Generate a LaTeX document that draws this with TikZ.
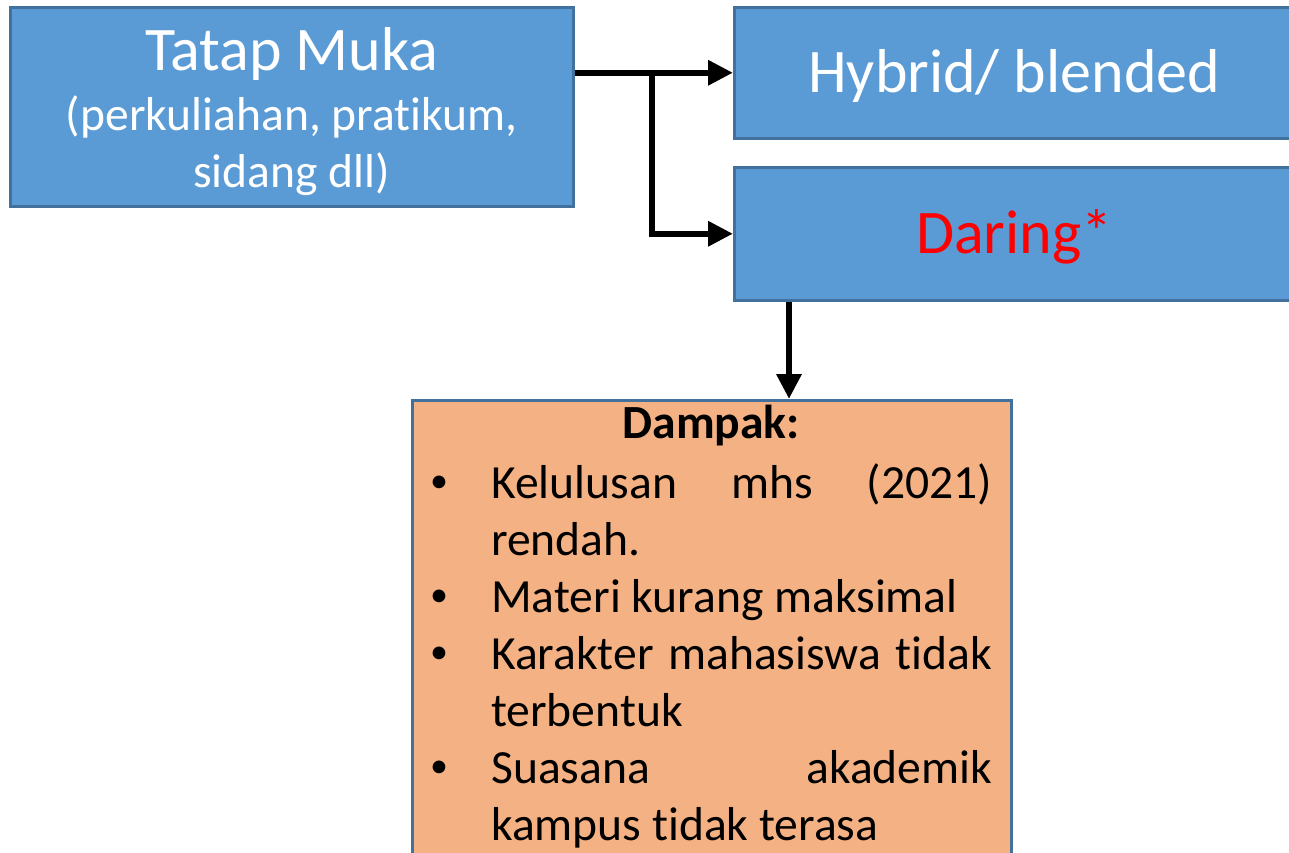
\documentclass[tikz,border=0pt]{standalone}
\usepackage{fontspec}
\setmainfont[Ligatures=NoCommon]{Carlito}
\usetikzlibrary{arrows.meta,calc}
\definecolor{boxblue}{HTML}{5B9BD5}
\definecolor{boxedge}{HTML}{41719C}
\definecolor{boxorange}{HTML}{F4B183}
\definecolor{darred}{HTML}{FF0000}
\newcommand\bigfont{\fontsize{62}{74}\selectfont}
\newcommand\midfont{\fontsize{47.6}{57}\selectfont}
\newcommand\bul{\makebox[61pt][l]{\raisebox{5.5pt}{\fontsize{36}{36}\selectfont •}}}
\begin{document}
\begin{tikzpicture}[x=1pt,y=-1pt,
  bluebox/.style={draw=boxedge, line width=2.5pt, fill=boxblue, rectangle, inner sep=0pt, anchor=north west},
  orangebox/.style={draw=boxedge, line width=2.5pt, fill=boxorange, rectangle, inner sep=0pt, anchor=north west},
  boxtext/.style={inner sep=0pt, anchor=base, text=white},
  conn/.style={line width=6.5pt, -{Triangle[length=25pt,width=24pt]}},
]
\useasboundingbox (0,0) rectangle (1289,852);
\fill[white] (0,0) rectangle (1289,852);
% boxes
\node[bluebox, minimum width=563pt, minimum height=199pt] (A) at (9,6) {};
\node[bluebox, minimum width=560pt, minimum height=131pt] (B) at (733,6) {};
\node[bluebox, minimum width=560pt, minimum height=133pt] (C) at (733,166) {};
\node[orangebox, minimum width=599pt, minimum height=500pt] (D) at (411,399) {};
% texts
\node[boxtext, font=\bigfont] (At) at ($(A.north)+(0,64)$) {Tatap Muka};
\node[boxtext, font=\midfont, align=center] (As) at ($(A.north)+(0,181)$) {(perkuliahan, pratikum,\\sidang dll)};
\node[boxtext, font=\bigfont] (Bt) at ($(B.north)+(0,86)$) {Hybrid/ blended};
\node[boxtext, font=\bigfont, text=darred] (Ct) at ($(C.north)+(0,87)$) {Daring*};
\node[inner sep=0pt, anchor=base west, text width=562pt, font=\midfont, align=justify] (Dt) at (430,438) {%
\hyphenpenalty=10000\exhyphenpenalty=10000\tolerance=9999\parindent=0pt
{\centering\bfseries Dampak:\par}\vspace{3pt}
\hangindent=61pt\hangafter=1\noindent\bul Kelulusan mhs (2021) rendah.\par
\hangindent=61pt\hangafter=1\noindent\bul Materi kurang maksimal\par
\hangindent=61pt\hangafter=1\noindent\bul Karakter mahasiswa tidak terbentuk\par
\hangindent=61pt\hangafter=1\noindent\bul Suasana akademik kampus tidak terasa\par};
% connectors
\coordinate (j) at (652,71.5);
\coordinate (d1) at ($(C.south west)+(56,0)$);
\draw[conn] (A.east |- B.west) -- (B.west);
\draw[conn] (j) |- (C.west);
\draw[conn] (d1) -- (d1 |- D.north);
\end{tikzpicture}
\end{document}
